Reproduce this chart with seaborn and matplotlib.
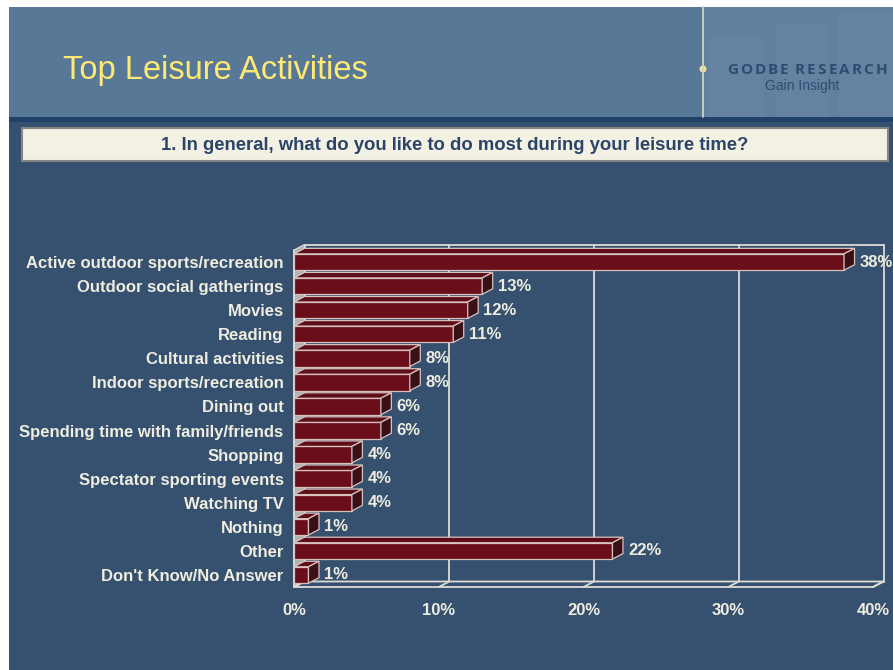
import matplotlib
matplotlib.use("Agg")
import matplotlib.pyplot as plt
from matplotlib.patches import Rectangle, Polygon, Circle
import pandas as pd
import seaborn as sns

# ---- data -------------------------------------------------------------
activities = [
    "Active outdoor sports/recreation",
    "Outdoor social gatherings",
    "Movies",
    "Reading",
    "Cultural activities",
    "Indoor sports/recreation",
    "Dining out",
    "Spending time with family/friends",
    "Shopping",
    "Spectator sporting events",
    "Watching TV",
    "Nothing",
    "Other",
    "Don't Know/No Answer",
]
shares = [38, 13, 12, 11, 8, 8, 6, 6, 4, 4, 4, 1, 22, 1]
x_ticks = [0, 10, 20, 30, 40]
x_tick_labels = ["0%", "10%", "20%", "30%", "40%"]
title = "Top Leisure Activities"
question = "1. In general, what do you like to do most during your leisure time?"
brand = "GODBE RESEARCH"
tagline = "Gain Insight"

# ---- style ------------------------------------------------------------
sns.set_style("white")
plt.rcParams["font.family"] = ["Liberation Sans", "DejaVu Sans"]

W, H = 893, 670
HEADER = "#587898"
STRIPE = "#1f416a"
BODY = "#36506f"
BOX = "#f2f1e4"
CREAM = "#eeeddf"
LINE = "#dcdcd4"
FRONT = "#6a0f1a"
TOP = "#5e0e17"
SIDE = "#3a1017"
BAR_EDGE = "#d8c2c0"
BRAND = "#2b4d72"

fig = plt.figure(figsize=(W / 100, H / 100), dpi=100)
fig.patch.set_facecolor("white")
renderer = fig.canvas.get_renderer()

# ---- slide background (pixel coordinates) ------------------------------
bg = fig.add_axes([0, 0, 1, 1], zorder=0)
bg.set_xlim(0, W)
bg.set_ylim(H, 0)
bg.axis("off")
bg.add_patch(Rectangle((9, 7), W - 9, 110, color=HEADER, lw=0))
# faint building shapes behind the logo
bg.add_patch(Rectangle((703, 7), W - 703, 110, color="#61809e", lw=0))
for (x0, y0, w) in [(708, 38, 55), (775, 23, 53), (838, 12, 55)]:
    bg.add_patch(Rectangle((x0, y0), w, 117 - y0, color="#7893ad", lw=0, alpha=0.18))
bg.plot([703, 703], [7, 117], color="#cfd2c0", lw=1.3)
bg.add_patch(Circle((703, 69), 3.5, color="#efe49a", lw=0))
bg.add_patch(Rectangle((9, 117), W - 9, 5, color=STRIPE, lw=0))
bg.add_patch(Rectangle((9, 122), W - 9, H - 122, color=BODY, lw=0))
bg.add_patch(Rectangle((22, 128), 866, 33, facecolor=BOX, edgecolor="#858585", lw=1.5))

bg.text(63, 79, title, color="#ffe873", fontsize=23.5, va="baseline", ha="left")


def spaced_text(ax, x_start, x_end, y, text, **kw):
    """Draw text letter by letter, spreading it evenly between x_start and x_end."""
    probe = ax.text(0, 0, "x", **kw)
    widths = []
    for ch in text:
        if ch == " ":
            widths.append(None)
            continue
        probe.set_text(ch)
        widths.append(probe.get_window_extent(renderer).width)
    probe.remove()
    space_w = 0.22 * max(w for w in widths if w is not None)
    widths = [space_w if w is None else w for w in widths]
    gap = (x_end - x_start - sum(widths)) / (len(text) - 1)
    x = x_start
    for ch, w in zip(text, widths):
        if ch != " ":
            ax.text(x, y, ch, ha="left", va="center", **kw)
        x += w + gap


spaced_text(bg, 727, 887, 70, brand, color=BRAND, fontsize=11, fontweight="bold",
            family=["Open Sans", "DejaVu Sans"])
bg.text(802, 86, tagline, color=BRAND, fontsize=10,
        ha="center", va="center", family=["Liberation Sans Narrow", "Liberation Sans"])
bg.text(455, 146, question, color="#2b4468", fontsize=13.3, fontweight="bold",
        ha="center", va="center")

# ---- chart ------------------------------------------------------------
left_px, right_px, top_px, bot_px = 294, 873, 250, 587
ax = fig.add_axes([left_px / W, 1 - bot_px / H,
                   (right_px - left_px) / W, (bot_px - top_px) / H], zorder=1)
ax.patch.set_alpha(0)

df = pd.DataFrame({"activity": activities, "share": shares})
sns.barplot(data=df, x="share", y="activity", orient="h", color=FRONT,
            saturation=1, width=0.68, edgecolor=BAR_EDGE, linewidth=0.9,
            ax=ax, zorder=3)

n = len(activities)
ax.set_xlim(0, 40)
ax.set_ylim(n - 0.5, -0.5)

# depth of the pseudo-3D box, converted from pixels into data units
DX_PX, DY_PX = 10.5, 5.5
dx = DX_PX / ((right_px - left_px) / 40)
dy = -DY_PX / ((bot_px - top_px) / n)
y_top, y_bot = -0.5, n - 0.5

# back wall with gridlines
ax.add_patch(Polygon([(dx, y_top + dy), (40 + dx, y_top + dy),
                      (40 + dx, y_bot + dy), (dx, y_bot + dy)], closed=True,
                     facecolor="none", edgecolor=LINE, lw=1.3, clip_on=False, zorder=1))
for v in x_ticks[1:-1]:
    ax.plot([v + dx, v + dx], [y_top + dy, y_bot + dy], color=LINE, lw=1.3,
            clip_on=False, zorder=1)
# left wall
ax.add_patch(Polygon([(0, y_top), (dx, y_top + dy), (dx, y_bot + dy), (0, y_bot)],
                     closed=True, facecolor="#b2b2b2", edgecolor=LINE, lw=0.8,
                     clip_on=False, zorder=2))
# floor
ax.add_patch(Polygon([(0, y_bot), (40, y_bot), (40 + dx, y_bot + dy), (dx, y_bot + dy)],
                     closed=True, facecolor=BODY, edgecolor=LINE, lw=1.3,
                     clip_on=False, zorder=2))
for v in x_ticks:
    ax.plot([v, v + dx], [y_bot, y_bot + dy], color=LINE, lw=1.3, clip_on=False, zorder=2)
ax.plot([0, 0], [y_top, y_bot], color=LINE, lw=1.3, clip_on=False, zorder=2)

# top and side faces of each bar
for patch in list(ax.patches):
    if not isinstance(patch, Rectangle) or patch.get_zorder() != 3:
        continue
    x0, y0 = patch.get_x(), patch.get_y()
    w, h = patch.get_width(), patch.get_height()
    top = [(x0, y0), (x0 + w, y0), (x0 + w + dx, y0 + dy), (x0 + dx, y0 + dy)]
    side = [(x0 + w, y0), (x0 + w + dx, y0 + dy), (x0 + w + dx, y0 + h + dy), (x0 + w, y0 + h)]
    ax.add_patch(Polygon(top, closed=True, facecolor=TOP, edgecolor=BAR_EDGE,
                         lw=0.9, clip_on=False, zorder=3.5))
    ax.add_patch(Polygon(side, closed=True, facecolor=SIDE, edgecolor=BAR_EDGE,
                         lw=0.9, clip_on=False, zorder=3.5))

# value labels
for i, v in enumerate(shares):
    ax.annotate(f"{v}%", xy=(v, i), xytext=(15.5 * 0.72, 0), textcoords="offset points",
                ha="left", va="center", color=CREAM, fontsize=12, fontweight="bold",
                annotation_clip=False, zorder=5)

for s in ax.spines.values():
    s.set_visible(False)
ax.set_xticks(x_ticks)
ax.set_xticklabels(x_tick_labels)
ax.set_xlabel("")
ax.set_ylabel("")
ax.tick_params(axis="x", direction="out", length=3.8, width=1.3, color=LINE,
               pad=8, labelsize=12, labelcolor=CREAM)
ax.tick_params(axis="y", length=0, pad=7.5, labelsize=12, labelcolor=CREAM)
for lab in ax.get_xticklabels() + ax.get_yticklabels():
    lab.set_fontweight("bold")
ax.grid(False)

fig.savefig("out.png", dpi=100, facecolor=fig.get_facecolor())
